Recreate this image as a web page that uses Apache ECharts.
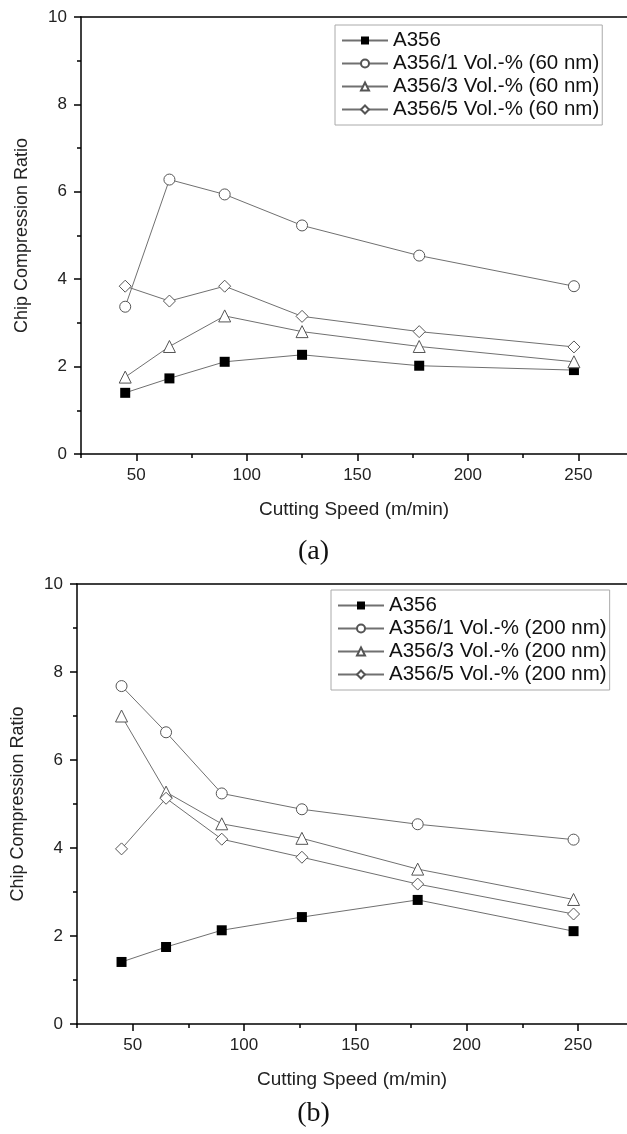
<!DOCTYPE html>
<html>
<head>
<meta charset="utf-8">
<script src="https://cdn.jsdelivr.net/npm/echarts@6/dist/echarts.min.js"></script>
<style>
html,body{margin:0;padding:0;background:#fff;}
#c{width:627px;height:1134px;}
</style>
</head>
<body>
<div id="c"></div>
<script>
// ---- data ----
const speedsA = [45, 65, 90, 125, 178, 248];
const a356A = [1.40, 1.73, 2.11, 2.27, 2.02, 1.92];
const vol1A = [3.37, 6.28, 5.94, 5.23, 4.54, 3.84];
const vol3A = [1.76, 2.46, 3.16, 2.80, 2.46, 2.11];
const vol5A = [3.84, 3.50, 3.84, 3.15, 2.80, 2.45];

const speedsB = [45, 65, 90, 126, 178, 248];
const a356B = [1.41, 1.75, 2.13, 2.43, 2.82, 2.11];
const vol1B = [7.68, 6.63, 5.24, 4.88, 4.54, 4.19];
const vol3B = [7.00, 5.27, 4.55, 4.22, 3.52, 2.83];
const vol5B = [3.98, 5.13, 4.20, 3.79, 3.18, 2.50];

const namesA = ['A356', 'A356/1 Vol.-% (60 nm)', 'A356/3 Vol.-% (60 nm)', 'A356/5 Vol.-% (60 nm)'];
const namesB = ['A356 ', 'A356/1 Vol.-% (200 nm)', 'A356/3 Vol.-% (200 nm)', 'A356/5 Vol.-% (200 nm)'];

const xMajorTicks = [50, 100, 150, 200, 250];
const xMinorTicks = [25, 75, 125, 175, 225];
const xMin = 25, xMax = 272;
const yMin = 0, yMax = 10, yStep = 2;
const xTitle = 'Cutting Speed (m/min)';
const yTitle = 'Chip Compression Ratio';
const panelLabels = ['(a)', '(b)'];

// ---- chart ----
const FONT = '"Liberation Sans", Arial, sans-serif';
const chart = echarts.init(document.getElementById('c'), null, {renderer: 'canvas'});

const pair = (xs, ys) => xs.map((x, i) => [x, ys[i]]);
const symbols = ['rect', 'circle', 'triangle', 'diamond'];
const symSizes = [10, 11, 12, 12];

function makeSeries(xs, list, names, idx) {
  return list.map((ys, k) => ({
    type: 'line',
    name: names[k],
    xAxisIndex: idx * 3,
    yAxisIndex: idx,
    data: pair(xs, ys),
    symbol: symbols[k],
    symbolSize: symSizes[k],
    showSymbol: true,
    lineStyle: {color: '#707070', width: 1},
    itemStyle: k === 0
      ? {color: '#000', borderColor: '#000', borderWidth: 0}
      : {color: '#fff', borderColor: '#555', borderWidth: 1},
    emphasis: {disabled: true},
    z: 3 + k
  }));
}

const grids = [
  {left: 81, top: 17, right: 0, height: 437},
  {left: 77, top: 584, right: 0, height: 440}
];

function xAxesFor(i) {
  return [
    {
      type: 'value', gridIndex: i, min: xMin, max: xMax,
      axisLine: {show: true, lineStyle: {color: '#000', width: 1.5}},
      axisTick: {show: true, inside: false, length: 7, customValues: xMajorTicks, lineStyle: {color: '#000', width: 1.5}},
      axisLabel: {show: true, customValues: xMajorTicks, margin: 13, fontFamily: FONT, fontSize: 17, color: '#222'},
      splitLine: {show: false},
      name: xTitle, nameLocation: 'middle', nameGap: 46,
      nameTextStyle: {fontFamily: FONT, fontSize: 19, color: '#222'}
    },
    {
      type: 'value', gridIndex: i, min: xMin, max: xMax, position: 'bottom',
      axisLine: {show: false},
      axisTick: {show: true, length: 4, customValues: xMinorTicks, lineStyle: {color: '#000', width: 1.5}},
      axisLabel: {show: false},
      splitLine: {show: false}
    },
    {
      type: 'value', gridIndex: i, min: xMin, max: xMax, position: 'top',
      axisLine: {show: true, lineStyle: {color: '#000', width: 1.5}},
      axisTick: {show: false},
      axisLabel: {show: false},
      splitLine: {show: false}
    }
  ];
}

function yAxisFor(i) {
  return {
    type: 'value', gridIndex: i, min: yMin, max: yMax, interval: yStep,
    axisLine: {show: true, lineStyle: {color: '#000', width: 1.5}},
    axisTick: {show: true, length: 7, lineStyle: {color: '#000', width: 1.5}},
    minorTick: {show: true, splitNumber: 2, length: 4, lineStyle: {color: '#000', width: 1.5}},
    axisLabel: {margin: 14, fontFamily: FONT, fontSize: 17, color: '#222'},
    splitLine: {show: false},
    name: yTitle, nameLocation: 'middle', nameGap: 50, nameRotate: 90,
    nameTextStyle: {fontFamily: FONT, fontSize: 18, color: '#222'}
  };
}

function legendFor(names, left, top) {
  return {
    data: names,
    orient: 'vertical',
    left: left, top: top,
    itemWidth: 46, itemHeight: 10, itemGap: 2,
    padding: [5, 3, 5, 6],
    borderColor: '#aaa', borderWidth: 1,
    backgroundColor: '#fff',
    selectedMode: false,
    textStyle: {fontFamily: FONT, fontSize: 20.5, color: '#111'}
  };
}

const option = {
  animation: false,
  backgroundColor: '#fff',
  grid: grids.map(g => Object.assign({show: false}, g)),
  xAxis: [...xAxesFor(0), ...xAxesFor(1)],
  yAxis: [yAxisFor(0), yAxisFor(1)],
  legend: [legendFor(namesA, 335, 25), legendFor(namesB, 331, 590)],
  title: [
    {text: panelLabels[0], left: 'center', top: 533, textStyle: {fontFamily: '"Liberation Serif", "Times New Roman", serif', fontSize: 28, fontWeight: 'normal', color: '#111'}},
    {text: panelLabels[1], left: 'center', top: 1095, textStyle: {fontFamily: '"Liberation Serif", "Times New Roman", serif', fontSize: 28, fontWeight: 'normal', color: '#111'}}
  ],
  series: [
    ...makeSeries(speedsA, [a356A, vol1A, vol3A, vol5A], namesA, 0),
    ...makeSeries(speedsB, [a356B, vol1B, vol3B, vol5B], namesB, 1)
  ]
};
chart.setOption(option);
</script>
</body>
</html>
